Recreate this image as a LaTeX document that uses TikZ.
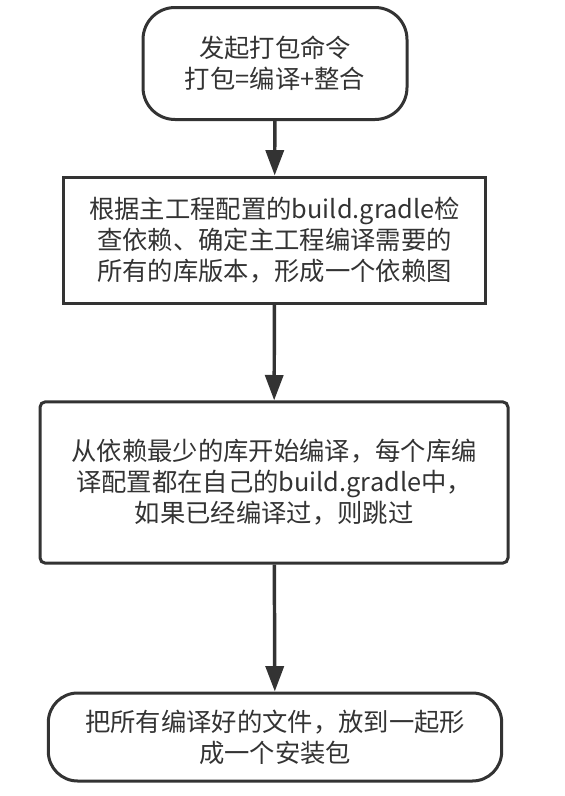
\documentclass[tikz,border=0pt]{standalone}
\usepackage{fontspec}
\newfontfamily\cjk{Noto Sans CJK SC}
\usetikzlibrary{arrows.meta}

\definecolor{inkgrey}{RGB}{51,51,51}
\tikzset{
  flowbox/.style={draw=inkgrey, line width=2.25pt, text=inkgrey, align=center,
    inner sep=0pt, font=\cjk\fontsize{19}{23.3}\selectfont},
  terminal/.style={flowbox, rounded corners=24pt},
  process/.style={flowbox},
  flowarrow/.style={draw=inkgrey, line width=2.6pt,
    -{Triangle[length=19pt,width=13.5pt]}},
}

\begin{document}
\begin{tikzpicture}[x=0.75pt,y=0.75pt,yscale=-1]
\useasboundingbox (0,0) rectangle (564,796);

% Terminator
\node (start) at (275,63.5) [terminal, minimum width=198pt, minimum height=84pt]
  {发起打包命令\\打包=编译+整合};
% Process
\node (deps) at (274.5,240) [process, minimum width=316pt, minimum height=94.5pt]
  {根据主工程配置的build.gradle检\\查依赖、确定主工程编译需要的\\所有的库版本，形成一个依赖图};
% Process
\node (compile) at (274,482.5) [process, rounded corners=4pt, minimum width=351pt, minimum height=121pt]
  {从依赖最少的库开始编译，每个库编\\译配置都在自己的build.gradle中，\\如果已经编译过，则跳过};
% Terminator
\node (pack) at (275,737) [terminal, rounded corners=22pt, minimum width=340pt, minimum height=66pt]
  {把所有编译好的文件，放到一起形\\成一个安装包};

% Arrows
\draw [flowarrow] (start) -- (deps);
\draw [flowarrow] (deps) -- (compile);
\draw [flowarrow] (compile) -- (pack);
\end{tikzpicture}
\end{document}
